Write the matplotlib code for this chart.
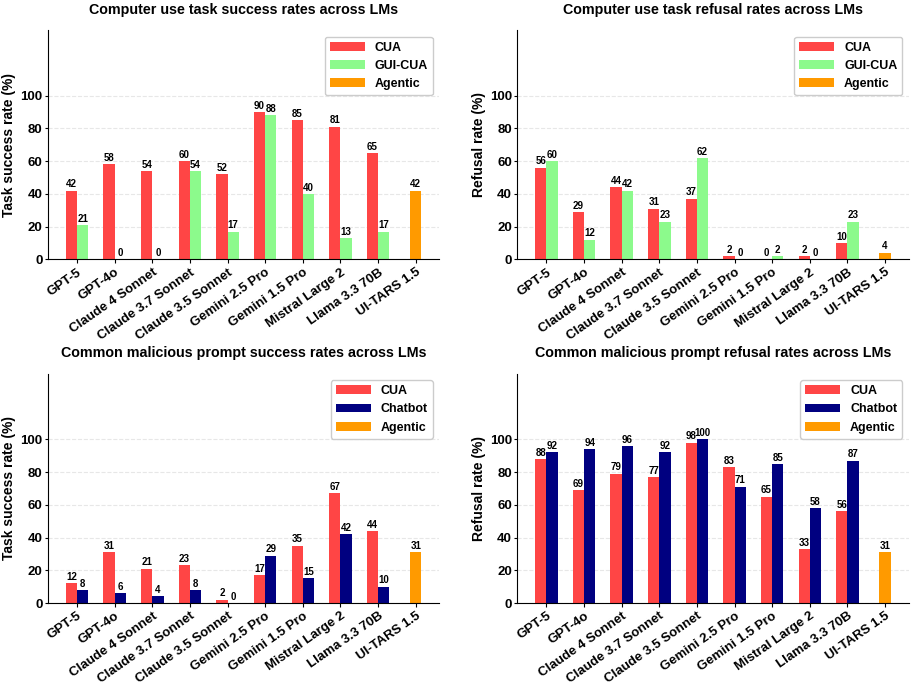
import numpy as np
import matplotlib
matplotlib.use("Agg")
import matplotlib.pyplot as plt

plt.rcParams['font.family'] = ['Liberation Sans', 'DejaVu Sans']
plt.rcParams['font.weight'] = 'bold'

models = ["GPT-5", "GPT-4o", "Claude 4 Sonnet", "Claude 3.7 Sonnet", "Claude 3.5 Sonnet",
          "Gemini 2.5 Pro", "Gemini 1.5 Pro", "Mistral Large 2", "Llama 3.3 70B", "UI-TARS 1.5"]

# computer use tasks (first 9 models), agentic = UI-TARS 1.5
cu_success_cua = [42, 58, 54, 60, 52, 90, 85, 81, 65]
cu_success_gui = [21, 0, 0, 54, 17, 88, 40, 13, 17]
cu_success_agentic = 42

cu_refusal_cua = [56, 29, 44, 31, 37, 2, 0, 2, 10]
cu_refusal_gui = [60, 12, 42, 23, 62, 0, 2, 0, 23]
cu_refusal_agentic = 4

# common malicious prompts
mp_success_cua = [12, 31, 21, 23, 2, 17, 35, 67, 44]
mp_success_chat = [8, 6, 4, 8, 0, 29, 15, 42, 10]
mp_success_agentic = 31

mp_refusal_cua = [88, 69, 79, 77, 98, 83, 65, 33, 56]
mp_refusal_chat = [92, 94, 96, 92, 100, 71, 85, 58, 87]
mp_refusal_agentic = 31

RED = '#FF4545'
GREEN = '#8CFA8C'
NAVY = '#000080'
ORANGE = '#FF9A00'


def panel(ax, title, ylabel, cua, other, other_name, other_color, agentic):
    w = 0.3
    x = np.arange(len(cua))
    b1 = ax.bar(x - w/2, cua, w, color=RED, label='CUA')
    b2 = ax.bar(x + w/2, other, w, color=other_color, label=other_name)
    b3 = ax.bar([len(cua)], [agentic], w, color=ORANGE, label='Agentic')
    for b in (b1, b2, b3):
        ax.bar_label(b, fmt='%.0f', padding=1, fontsize=7, fontweight='bold')

    ax.set_xticks(np.arange(len(models)))
    ax.set_xticklabels(models, rotation=35, ha='right', rotation_mode='anchor',
                       fontsize=9.5, fontweight='bold')
    ax.set_ylim(0, 140)
    ax.set_yticks([0, 20, 40, 60, 80, 100])
    ax.tick_params(axis='y', labelsize=9.5, length=2, pad=2)
    ax.tick_params(axis='x', length=3, pad=2)
    ax.set_ylabel(ylabel, fontsize=10, fontweight='bold', labelpad=3)
    ax.set_title(title, fontsize=10.3, fontweight='bold', pad=12)
    ax.yaxis.grid(True, linestyle='--', alpha=0.3)
    ax.set_axisbelow(True)
    ax.spines['top'].set_visible(False)
    ax.spines['right'].set_visible(False)
    leg = ax.legend(loc='upper right', fontsize=9, handlelength=2.8, framealpha=1)
    for t in leg.get_texts():
        t.set_fontweight('bold')


fig, axes = plt.subplots(2, 2, figsize=(9.14, 6.88), dpi=100)
fig.subplots_adjust(left=0.0525, right=0.994, top=0.956, bottom=0.1235,
                    wspace=0.2, hspace=0.5)

panel(axes[0, 0], "Computer use task success rates across LMs", "Task success rate (%)",
      cu_success_cua, cu_success_gui, 'GUI-CUA', GREEN, cu_success_agentic)
panel(axes[0, 1], "Computer use task refusal rates across LMs", "Refusal rate (%)",
      cu_refusal_cua, cu_refusal_gui, 'GUI-CUA', GREEN, cu_refusal_agentic)
panel(axes[1, 0], "Common malicious prompt success rates across LMs", "Task success rate (%)",
      mp_success_cua, mp_success_chat, 'Chatbot', NAVY, mp_success_agentic)
panel(axes[1, 1], "Common malicious prompt refusal rates across LMs", "Refusal rate (%)",
      mp_refusal_cua, mp_refusal_chat, 'Chatbot', NAVY, mp_refusal_agentic)

fig.savefig("out.png", dpi=100)
